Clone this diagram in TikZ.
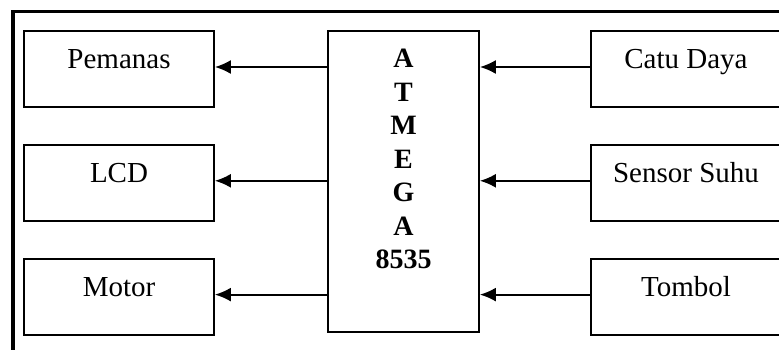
\documentclass[tikz,border=0pt]{standalone}
\usepackage{fontspec}
\setmainfont{Liberation Serif}
\usetikzlibrary{positioning,arrows.meta}

\tikzstyle{kotak} = [draw=black, line width=1.8pt, rectangle, minimum width=190pt, minimum height=76pt, inner sep=0pt, text height=20pt, text depth=21pt, font=\fontsize{29}{33.5}\selectfont]
\tikzstyle{panah} = [-{Latex[length=16pt,width=14pt]}, line width=1.8pt]

\begin{document}
\begin{tikzpicture}[x=1pt,y=-1pt,node distance=36pt]
\useasboundingbox (0,0) rectangle (779,349);

% bingkai luar, hanya atas dan kiri yang terlihat
\draw[line width=3.8pt] (13,352) -- (13,11.5) -- (782,11.5);

% keluaran
\node[kotak] (pemanas) at (119,69) {Pemanas};
\node[kotak,below=of pemanas] (lcd) {LCD};
\node[kotak,below=of lcd] (motor) {Motor};

% mikrokontroler
\node[draw,line width=1.8pt,minimum width=151pt,minimum height=301pt,inner sep=0pt] (mcu) at (403.5,181.5) {};
\node[anchor=north,inner sep=0pt,align=center,font=\fontsize{28}{33.5}\selectfont\bfseries] (label) at ([yshift=-19pt]mcu.north) {A\\T\\M\\E\\G\\A\\8535};

% masukan
\node[kotak] (catu) at (686,69) {Catu Daya};
\node[kotak,below=of catu] (sensor) {Sensor Suhu};
\node[kotak,below=of sensor] (tombol) {Tombol};

\draw[panah] ([yshift=2pt]mcu.west |- pemanas) -- ([yshift=2pt]pemanas.east);
\draw[panah] ([yshift=2pt]mcu.west |- lcd) -- ([yshift=2pt]lcd.east);
\draw[panah] ([yshift=2pt]mcu.west |- motor) -- ([yshift=2pt]motor.east);

\draw[panah] ([yshift=2pt]catu.west) -- ([yshift=2pt]mcu.east |- catu);
\draw[panah] ([yshift=2pt]sensor.west) -- ([yshift=2pt]mcu.east |- sensor);
\draw[panah] ([yshift=2pt]tombol.west) -- ([yshift=2pt]mcu.east |- tombol);
\end{tikzpicture}
\end{document}
